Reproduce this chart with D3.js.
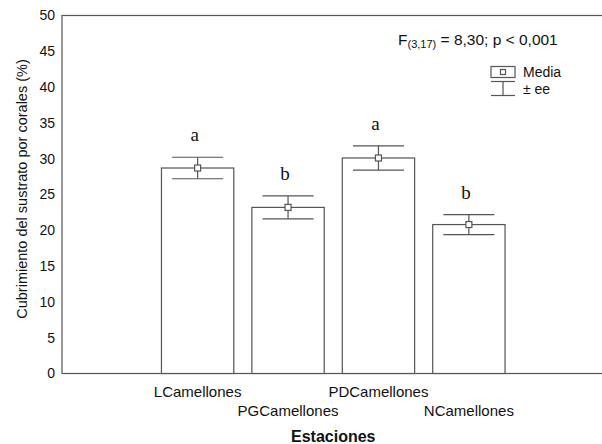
<!DOCTYPE html>
<html>
<head>
<meta charset="utf-8">
<script src="https://cdn.jsdelivr.net/npm/d3@7"></script>
<style>
  html, body { margin: 0; padding: 0; background: #fff; }
  svg { display: block; font-family: "Liberation Sans", Arial, sans-serif; }
</style>
</head>
<body>
<svg id="chart" width="602" height="444"></svg>
<script>
// Coral cover per station: mean and standard error
const stations = ["LCamellones", "PGCamellones", "PDCamellones", "NCamellones"];
const means = [28.7, 23.2, 30.1, 20.8];
const stdErrors = [1.5, 1.6, 1.7, 1.4];
const groupLetters = ["a", "b", "a", "b"];
const yTicks = [0, 5, 10, 15, 20, 25, 30, 35, 40, 45, 50];

const svg = d3.select("#chart");
const plot = { left: 62, right: 604.5, top: 15.5, bottom: 373.5 };
const lineColor = "#555";

const x = d3.scaleBand()
  .domain(stations)
  .range([plot.left, plot.right])
  .paddingInner(0.2)
  .paddingOuter(1.1);

const y = d3.scaleLinear().domain([0, 50]).range([plot.bottom, plot.top]);

// Frame
svg.append("rect")
  .attr("x", plot.left).attr("y", plot.top)
  .attr("width", plot.right - plot.left).attr("height", plot.bottom - plot.top)
  .attr("fill", "none").attr("stroke", lineColor).attr("stroke-width", 1.2);

// Y axis labels (no tick marks)
const yAxis = d3.axisLeft(y).tickValues(yTicks).tickSize(0).tickPadding(7);
const gy = svg.append("g").attr("transform", `translate(${plot.left},0)`).call(yAxis);
gy.select(".domain").remove();
gy.selectAll("text").attr("font-size", 14).attr("fill", "#111")
  .attr("font-family", "Liberation Sans, Arial, sans-serif");

// Bars
const bars = svg.append("g");
bars.selectAll("rect")
  .data(stations)
  .join("rect")
  .attr("x", d => x(d))
  .attr("width", x.bandwidth())
  .attr("y", (d, i) => y(means[i]))
  .attr("height", (d, i) => y(0) - y(means[i]))
  .attr("fill", "#fff")
  .attr("stroke", lineColor)
  .attr("stroke-width", 1.2);

// Error bars with mean markers and group letters
const capHalf = 25.5;
const err = svg.append("g").attr("stroke", lineColor).attr("stroke-width", 1.2);
stations.forEach((s, i) => {
  const cx = x(s) + x.bandwidth() / 2;
  const hi = y(means[i] + stdErrors[i]);
  const lo = y(means[i] - stdErrors[i]);
  err.append("line").attr("x1", cx).attr("x2", cx).attr("y1", hi).attr("y2", lo);
  err.append("line").attr("x1", cx - capHalf).attr("x2", cx + capHalf).attr("y1", hi).attr("y2", hi);
  err.append("line").attr("x1", cx - capHalf).attr("x2", cx + capHalf).attr("y1", lo).attr("y2", lo);
  err.append("rect")
    .attr("x", cx - 3).attr("y", y(means[i]) - 3)
    .attr("width", 6).attr("height", 6)
    .attr("fill", "#fff");
  svg.append("text")
    .attr("x", cx - 3)
    .attr("y", hi - 16)
    .attr("text-anchor", "middle")
    .attr("font-family", "Liberation Serif, Times New Roman, serif")
    .attr("font-size", 19)
    .attr("fill", "#111")
    .text(groupLetters[i]);
});

// Category labels, alternating rows
svg.append("g").selectAll("text")
  .data(stations)
  .join("text")
  .attr("x", d => x(d) + x.bandwidth() / 2)
  .attr("y", (d, i) => i % 2 === 0 ? 396.5 : 415.5)
  .attr("text-anchor", "middle")
  .attr("font-size", 15)
  .attr("fill", "#111")
  .text(d => d);

// Axis titles
svg.append("text")
  .attr("x", (plot.left + plot.right) / 2)
  .attr("y", 441.5)
  .attr("text-anchor", "middle")
  .attr("font-size", 16)
  .attr("font-weight", "bold")
  .attr("fill", "#111")
  .text("Estaciones");

svg.append("text")
  .attr("transform", "translate(26.5,189) rotate(-90)")
  .attr("text-anchor", "middle")
  .attr("font-size", 14.5)
  .attr("fill", "#111")
  .text("Cubrimiento del sustrato por corales (%)");

// Test statistic
const stat = svg.append("text")
  .attr("x", 398).attr("y", 45)
  .attr("font-size", 15.5)
  .attr("fill", "#111");
stat.append("tspan").text("F");
stat.append("tspan").attr("font-size", 11).attr("dy", 3).text("(3,17)");
stat.append("tspan").attr("dy", -3).text(" = 8,30; p < 0,001");

// Legend
const lg = svg.append("g").attr("stroke", lineColor).attr("stroke-width", 1.2).attr("fill", "none");
lg.append("rect").attr("x", 491).attr("y", 66.5).attr("width", 24).attr("height", 11).attr("fill", "#fff");
lg.append("rect").attr("x", 500.5).attr("y", 69.5).attr("width", 5).attr("height", 5).attr("fill", "#fff");
lg.append("line").attr("x1", 491).attr("x2", 515).attr("y1", 81.5).attr("y2", 81.5);
lg.append("line").attr("x1", 503).attr("x2", 503).attr("y1", 81.5).attr("y2", 95.5);
lg.append("line").attr("x1", 491).attr("x2", 515).attr("y1", 95.5).attr("y2", 95.5);
svg.append("text").attr("x", 523).attr("y", 77).attr("font-size", 14).attr("fill", "#111").text("Media");
svg.append("text").attr("x", 523).attr("y", 94).attr("font-size", 14).attr("fill", "#111").text("± ee");
</script>
</body>
</html>
